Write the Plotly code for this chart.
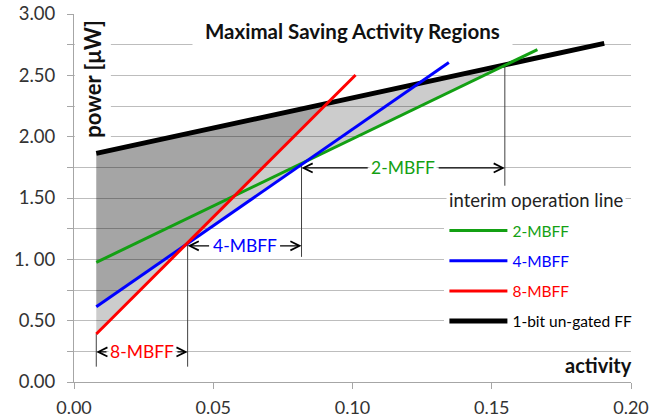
import numpy as np
import plotly.graph_objects as go

# ---------------- data ----------------
series_names = ["2-MBFF", "4-MBFF", "8-MBFF", "1-bit un-gated FF"]
activity_2mbff = [0.008, 0.1664]
power_2mbff = [0.975, 2.71]
activity_4mbff = [0.008, 0.1346]
power_4mbff = [0.613, 2.605]
activity_8mbff = [0.008, 0.1011]
power_8mbff = [0.391, 2.503]
activity_ff = [0.008, 0.1904]
power_ff = [1.864, 2.761]

# interim operation lines (crossing points) and where their drop lines end
interim_activity = [0.008, 0.0408, 0.0817, 0.1547]
interim_power_top = [0.391, 1.12, 1.775, 2.58]
interim_power_bottom = [0.125, 0.125, 1.02, 1.60]

range_labels = ["8-MBFF", "4-MBFF", "2-MBFF"]
range_label_power = [0.245, 1.11, 1.745]

x_tick_vals = [0.0, 0.05, 0.10, 0.15, 0.20]
x_tick_text = ["0.00", "0.05", "0.10", "0.15", "0.20"]
y_tick_vals = [0.0, 0.25, 0.5, 0.75, 1.0, 1.25, 1.5, 1.75, 2.0, 2.25, 2.5, 2.75, 3.0]
y_tick_text = ["0.00", "", "0.50", "", "1. 00", "", "1.50", "", "2.00", "", "2.50", "", "3.00"]

# ---------------- styles ----------------
GREEN = "#13a013"
BLUE = "#0000ff"
RED = "#ff0000"
BLACK = "#000000"
FONT = "Lato"


def line_fn(xs, ys):
    xs = np.asarray(xs, float)
    ys = np.asarray(ys, float)
    m = (ys[1] - ys[0]) / (xs[1] - xs[0])
    return lambda x: ys[0] + m * (np.asarray(x, float) - xs[0]), m, ys[0] - m * xs[0]


f2, m2, b2 = line_fn(activity_2mbff, power_2mbff)
f4, m4, b4 = line_fn(activity_4mbff, power_4mbff)
f8, m8, b8 = line_fn(activity_8mbff, power_8mbff)
ff, mf, bf = line_fn(activity_ff, power_ff)


def cross(ma, ba, mb, bb):
    return (bb - ba) / (ma - mb)


x0 = activity_ff[0]
x_84 = cross(m8, b8, m4, b4)      # 8 meets 4
x_42 = cross(m4, b4, m2, b2)      # 4 meets 2
x_2f = cross(m2, b2, mf, bf)      # 2 meets FF
x_8f = cross(m8, b8, mf, bf)      # 8 meets FF

# light region: between FF line and lowest MBFF line
light_x = [x0, x_2f, x_42, x_84, x0]
light_y = [float(ff(x0)), float(ff(x_2f)), float(f4(x_42)), float(f8(x_84)), float(f8(x0))]
# dark region: between FF line and the upper of 8/4 lines
dark_x = [x0, x_8f, x_84, x0]
dark_y = [float(ff(x0)), float(ff(x_8f)), float(f8(x_84)), float(f4(x0))]

fig = go.Figure()

fig.add_trace(go.Scatter(x=light_x, y=light_y, fill="toself", mode="none",
                         fillcolor="rgba(0,0,0,0.2)", showlegend=False, hoverinfo="skip"))
fig.add_trace(go.Scatter(x=dark_x, y=dark_y, fill="toself", mode="none",
                         fillcolor="rgba(0,0,0,0.19)", showlegend=False, hoverinfo="skip"))

# drop lines
vx, vy = [], []
for a, lo, hi in zip(interim_activity, interim_power_bottom, interim_power_top):
    vx += [a, a, None]
    vy += [lo, hi, None]
fig.add_trace(go.Scatter(x=vx, y=vy, mode="lines", line=dict(color="#404040", width=1),
                         showlegend=False, hoverinfo="skip"))

fig.add_trace(go.Scatter(x=activity_ff, y=power_ff, mode="lines", name=series_names[3],
                         line=dict(color=BLACK, width=5), legendrank=4, legendgroup="d"))
fig.add_trace(go.Scatter(x=activity_2mbff, y=power_2mbff, mode="lines",
                         name=f'<span style="color:{GREEN}">{series_names[0]}</span>',
                         line=dict(color=GREEN, width=3), legendrank=1, legendgroup="a"))
fig.add_trace(go.Scatter(x=activity_4mbff, y=power_4mbff, mode="lines",
                         name=f'<span style="color:{BLUE}">{series_names[1]}</span>',
                         line=dict(color=BLUE, width=3), legendrank=2, legendgroup="b"))
fig.add_trace(go.Scatter(x=activity_8mbff, y=power_8mbff, mode="lines",
                         name=f'<span style="color:{RED}">{series_names[2]}</span>',
                         line=dict(color=RED, width=3), legendrank=3, legendgroup="c"))

annotations = []
label_colors = [RED, BLUE, GREEN]
half_span = 0.0122
for i, lab in enumerate(range_labels):
    a0, a1 = interim_activity[i], interim_activity[i + 1]
    mid = (a0 + a1) / 2
    yy = range_label_power[i]
    for head, tail in ((a0, mid - half_span), (a1, mid + half_span)):
        annotations.append(dict(x=head, y=yy, ax=tail, ay=yy, xref="x", yref="y",
                                axref="x", ayref="y", text="", showarrow=True,
                                arrowhead=5, arrowsize=1.5, arrowwidth=1.2,
                                arrowcolor="#000000", standoff=0, startstandoff=0))
    annotations.append(dict(x=mid, y=yy, xref="x", yref="y", text=lab, showarrow=False,
                            bgcolor="white", borderpad=1,
                            font=dict(family=FONT, size=17.5, color=label_colors[i])))

annotations.append(dict(x=0.5, y=1.0, xref="paper", yref="paper", xanchor="center",
                        yanchor="top", yshift=-2,
                        text="<b>&nbsp;&nbsp;Maximal Saving Activity Regions&nbsp;&nbsp;</b>",
                        showarrow=False, bgcolor="white", borderpad=2,
                        font=dict(family=FONT, size=20.5, color="#111111")))
annotations.append(dict(x=0.0, y=0.823, xref="paper", yref="paper", xanchor="left",
                        yanchor="middle", text="<b>power [μW]</b>", textangle=-90,
                        showarrow=False, bgcolor="white", borderpad=4,
                        font=dict(family=FONT, size=22, color="#111111")))
annotations.append(dict(x=1.0, y=0.0, xref="paper", yref="paper", xanchor="right",
                        yanchor="bottom", yshift=3, xshift=3, text="<b>activity</b>",
                        showarrow=False, font=dict(family=FONT, size=20, color="#111111")))
annotations.append(dict(x=0.668, y=(382 - 200) / 368, xref="paper", yref="paper",
                        xanchor="left", yanchor="middle", text="interim operation line",
                        showarrow=False, bgcolor="white", borderpad=2,
                        font=dict(family=FONT, size=18.5, color="#222222")))

fig.update_layout(
    width=662, height=420,
    margin=dict(l=74, r=31, t=14, b=38),
    paper_bgcolor="white", plot_bgcolor="white",
    font=dict(family=FONT, size=15, color="#333333"),
    annotations=annotations,
    showlegend=True,
    legend=dict(x=0.665, y=(382 - 214) / 368, xanchor="left", yanchor="top",
                bgcolor="white", borderwidth=0,
                font=dict(family=FONT, size=15.5, color="#000000"),
                traceorder="grouped", tracegroupgap=7, itemwidth=58),
)
fig.update_xaxes(range=[0, 0.2], tickvals=x_tick_vals, ticktext=x_tick_text,
                 showgrid=False, zeroline=False, showline=True, linecolor="#a6a6a6",
                 ticks="outside", ticklen=6, tickcolor="#a6a6a6", automargin=False,
                 tickfont=dict(family=FONT, size=18, color="#333333"), ticklabelstandoff=3)
fig.update_yaxes(range=[0, 3], tickvals=y_tick_vals, ticktext=y_tick_text,
                 showgrid=True, gridcolor="#bdbdbd", gridwidth=1, zeroline=False,
                 showline=True, linecolor="#a6a6a6", automargin=False,
                 ticks="outside", ticklen=6, tickcolor="#a6a6a6",
                 tickfont=dict(family=FONT, size=18.5, color="#333333"), ticklabelstandoff=8)

fig.write_html("out.html", config={"displayModeBar": False},
               post_script="document.body.style.margin='0px';")
